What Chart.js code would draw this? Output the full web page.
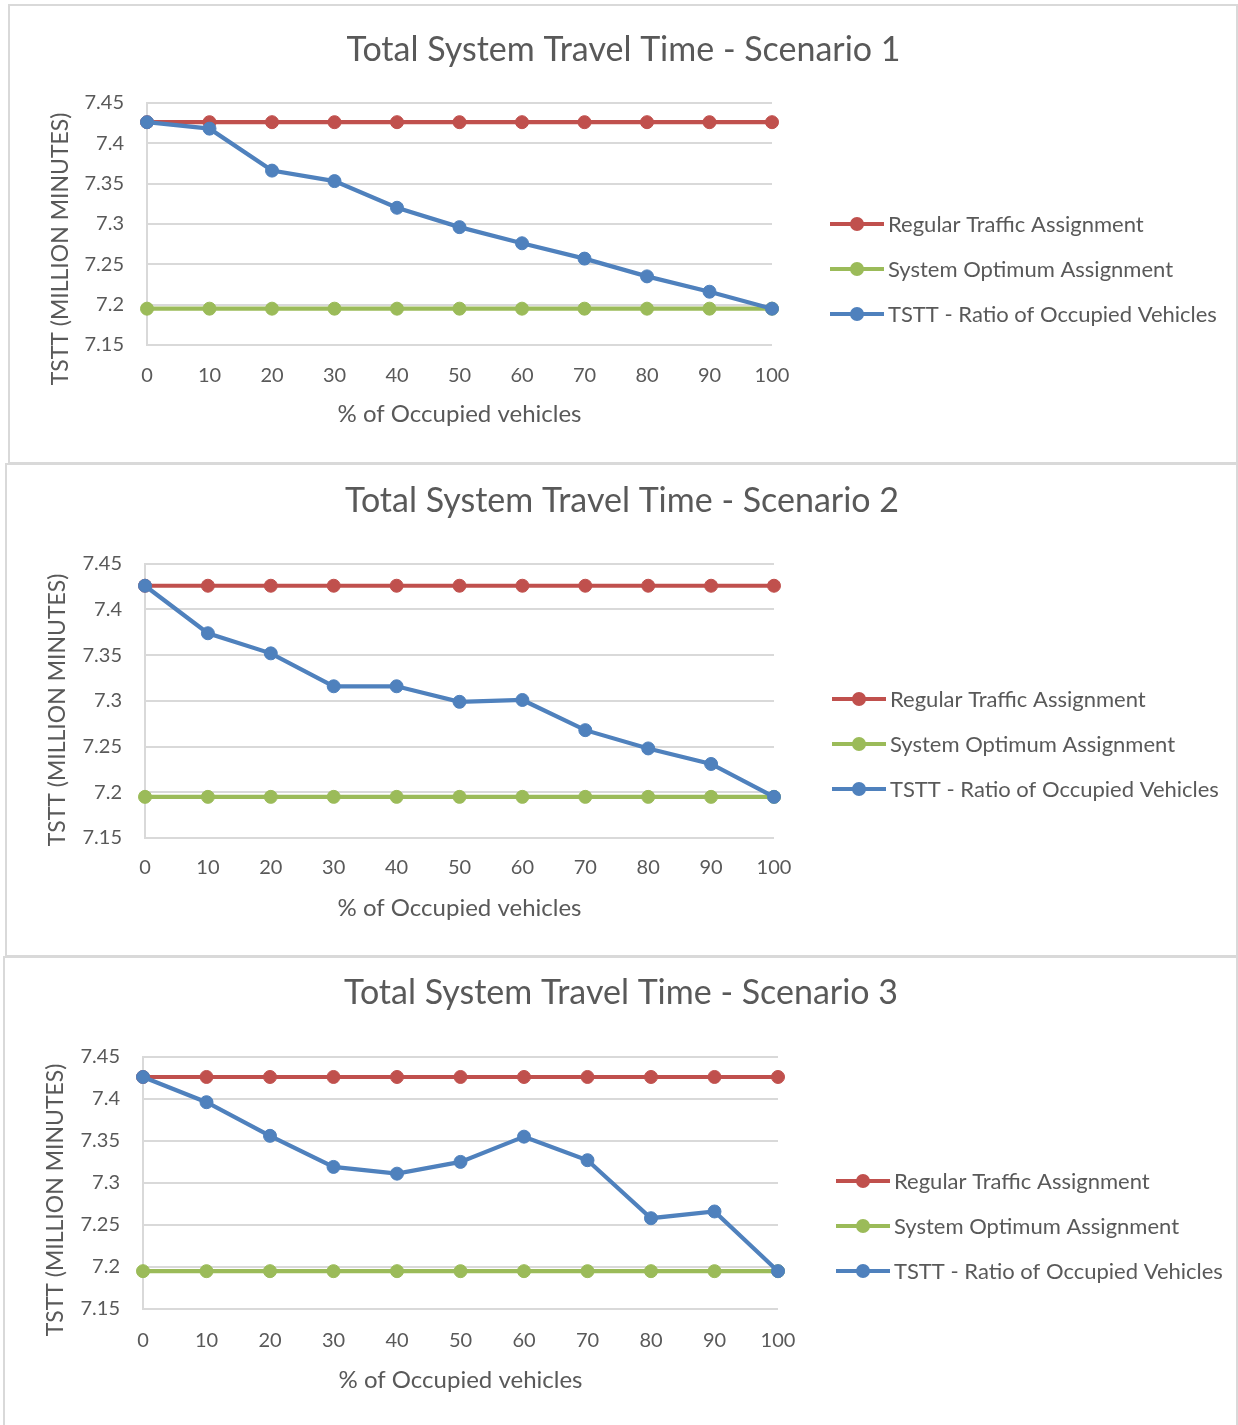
<!DOCTYPE html>
<html>
<head>
<meta charset="utf-8">
<script src="https://cdn.jsdelivr.net/npm/chart.js@4.4.1/dist/chart.umd.min.js"></script>
<style>
  html, body { margin: 0; padding: 0; background: #ffffff; }
  body { width: 1238px; height: 1425px; position: relative; overflow: hidden; }
  .frame { position: absolute; box-sizing: border-box; border: 2px solid #d9d9d9; }
  canvas { position: absolute; }
</style>
</head>
<body>
<div class="frame" style="left:8px;top:4px;width:1230px;height:460px;"></div>
<div class="frame" style="left:5px;top:463px;width:1233px;height:494px;"></div>
<div class="frame" style="left:3px;top:956px;width:1235px;height:472px;"></div>
<canvas id="c1" style="left:9px;top:5px;"></canvas>
<canvas id="c2" style="left:6px;top:463px;"></canvas>
<canvas id="c3" style="left:4px;top:957px;"></canvas>
<script>
// ---------- data ----------
const xLabels = ['0', '10', '20', '30', '40', '50', '60', '70', '80', '90', '100'];
const yTickValues = [7.15, 7.2, 7.25, 7.3, 7.35, 7.4, 7.45];
const seriesNames = ['Regular Traffic Assignment', 'System Optimum Assignment', 'TSTT - Ratio of Occupied Vehicles'];
const chartTitles = ['Total System Travel Time - Scenario 1', 'Total System Travel Time - Scenario 2', 'Total System Travel Time - Scenario 3'];
const xAxisTitle = '% of Occupied vehicles';
const yAxisTitle = 'TSTT (MILLION MINUTES)';

const regularS1 = [7.426, 7.426, 7.426, 7.426, 7.426, 7.426, 7.426, 7.426, 7.426, 7.426, 7.426];
const optimumS1 = [7.195, 7.195, 7.195, 7.195, 7.195, 7.195, 7.195, 7.195, 7.195, 7.195, 7.195];
const tsttS1    = [7.426, 7.418, 7.366, 7.353, 7.320, 7.296, 7.276, 7.257, 7.235, 7.216, 7.195];

const regularS2 = [7.426, 7.426, 7.426, 7.426, 7.426, 7.426, 7.426, 7.426, 7.426, 7.426, 7.426];
const optimumS2 = [7.195, 7.195, 7.195, 7.195, 7.195, 7.195, 7.195, 7.195, 7.195, 7.195, 7.195];
const tsttS2    = [7.426, 7.374, 7.352, 7.316, 7.316, 7.299, 7.301, 7.268, 7.248, 7.231, 7.195];

const regularS3 = [7.426, 7.426, 7.426, 7.426, 7.426, 7.426, 7.426, 7.426, 7.426, 7.426, 7.426];
const optimumS3 = [7.195, 7.195, 7.195, 7.195, 7.195, 7.195, 7.195, 7.195, 7.195, 7.195, 7.195];
const tsttS3    = [7.426, 7.396, 7.356, 7.319, 7.311, 7.325, 7.355, 7.327, 7.258, 7.266, 7.195];

// ---------- style ----------
const FONT = 'Lato, "Open Sans", sans-serif';
const TEXT = '#595959';
const GRID = '#d9d9d9';
const COLORS = ['#c0504d', '#9bbb59', '#4f81bd'];

const sideLegend = {
  id: 'sideLegend',
  afterDraw(chart, args, opts) {
    const ctx = chart.ctx;
    const x0 = chart.chartArea.right + opts.gap;
    const midY = chart.height / 2 + opts.dy;
    ctx.save();
    chart.data.datasets.forEach((ds, i) => {
      const y = midY + (i - 1) * opts.rowGap;
      ctx.strokeStyle = ds.borderColor;
      ctx.lineWidth = 4;
      ctx.lineCap = 'butt';
      ctx.beginPath();
      ctx.moveTo(x0, y);
      ctx.lineTo(x0 + 54, y);
      ctx.stroke();
      ctx.fillStyle = ds.borderColor;
      ctx.beginPath();
      ctx.arc(x0 + 27, y, 7, 0, Math.PI * 2);
      ctx.fill();
      ctx.fillStyle = TEXT;
      ctx.font = '22px ' + FONT;
      ctx.textBaseline = 'middle';
      ctx.textAlign = 'left';
      ctx.fillText(ds.label, x0 + 58, y + 1);
    });
    ctx.restore();
  }
};

// vertical axis title, placed relative to the y scale
const yTitlePlugin = {
  id: 'yTitlePlugin',
  afterDraw(chart, args, opts) {
    const ctx = chart.ctx;
    const ys = chart.scales.y;
    const cy = (ys.top + ys.bottom) / 2 + opts.dy;
    ctx.save();
    ctx.translate(opts.x, cy);
    ctx.rotate(-Math.PI / 2);
    ctx.fillStyle = TEXT;
    ctx.font = '23px ' + FONT;
    ctx.textAlign = 'center';
    ctx.textBaseline = 'middle';
    ctx.fillText(opts.text, 0, 0);
    ctx.restore();
  }
};

function makeChart(id, w, h, title, regular, optimum, tstt, lay) {
  const cv = document.getElementById(id);
  cv.width = w; cv.height = h;
  cv.style.width = w + 'px'; cv.style.height = h + 'px';
  const series = [regular, optimum, tstt];
  const datasets = series.map((d, i) => ({
    label: seriesNames[i],
    data: d,
    borderColor: COLORS[i],
    backgroundColor: COLORS[i],
    pointBackgroundColor: COLORS[i],
    pointBorderColor: COLORS[i],
    borderWidth: 4.2,
    pointRadius: 6.5,
    pointBorderWidth: 1,
    tension: 0,
    order: 3 - i
  }));
  return new Chart(cv, {
    type: 'line',
    data: { labels: xLabels, datasets },
    plugins: [sideLegend, yTitlePlugin],
    options: {
      responsive: false,
      animation: false,
      devicePixelRatio: 1,
      layout: { padding: { left: 0, right: 0, top: 0, bottom: lay.padBottom } },
      plugins: {
        legend: { display: false },
        tooltip: { enabled: false },
        title: {
          display: true, text: title, color: TEXT,
          font: { family: FONT, size: 34, weight: 'normal' },
          padding: { top: lay.titleTop, bottom: lay.titleBottom }
        },
        sideLegend: { gap: 58, dy: 35, rowGap: 45 },
        yTitlePlugin: { text: yAxisTitle, x: 52, dy: lay.yTitleDy }
      },
      scales: {
        x: {
          afterFit: (s) => { s.height = lay.xHeight; },
          grid: { display: false, drawTicks: false },
          border: { display: false },
          ticks: { color: TEXT, font: { family: FONT, size: 20 }, padding: lay.xTickPad, maxRotation: 0, autoSkip: false },
          title: { display: true, text: xAxisTitle, color: TEXT, font: { family: FONT, size: 24 }, padding: { top: 0, bottom: 0 } }
        },
        y: {
          min: 7.15, max: 7.45,
          afterBuildTicks: (s) => { s.ticks = yTickValues.map(v => ({ value: v })); },
          afterFit: (s) => { s.width = lay.left; },
          grid: { color: GRID, lineWidth: 2, drawTicks: false },
          border: { display: true, color: GRID, width: 2 },
          ticks: { color: TEXT, font: { family: FONT, size: 20 }, padding: 23,
                   callback: (v) => String(parseFloat(Number(v).toFixed(2))) },
          title: { display: false }
        },
        legendSpace: {
          type: 'linear', axis: 'y', position: 'right', display: true,
          afterFit: (s) => { s.width = w - lay.right; },
          grid: { display: false, drawTicks: false },
          border: { display: false },
          ticks: { display: false },
          title: { display: false }
        }
      }
    }
  });
}

makeChart('c1', 1229, 458, chartTitles[0], regularS1, optimumS1, tsttS1,
  { left: 138, right: 763, titleTop: 25, titleBottom: 32, xTickPad: 19, xHeight: 84, padBottom: 34, yTitleDy: 25 });
makeChart('c2', 1232, 492, chartTitles[1], regularS2, optimumS2, tsttS2,
  { left: 139, right: 768, titleTop: 18, titleBottom: 42, xTickPad: 18, xHeight: 85, padBottom: 32, yTitleDy: 9 });
makeChart('c3', 1234, 468, chartTitles[2], regularS3, optimumS3, tsttS3,
  { left: 139, right: 774, titleTop: 16, titleBottom: 43, xTickPad: 20, xHeight: 86, padBottom: 30, yTitleDy: 17 });
</script>
</body>
</html>
